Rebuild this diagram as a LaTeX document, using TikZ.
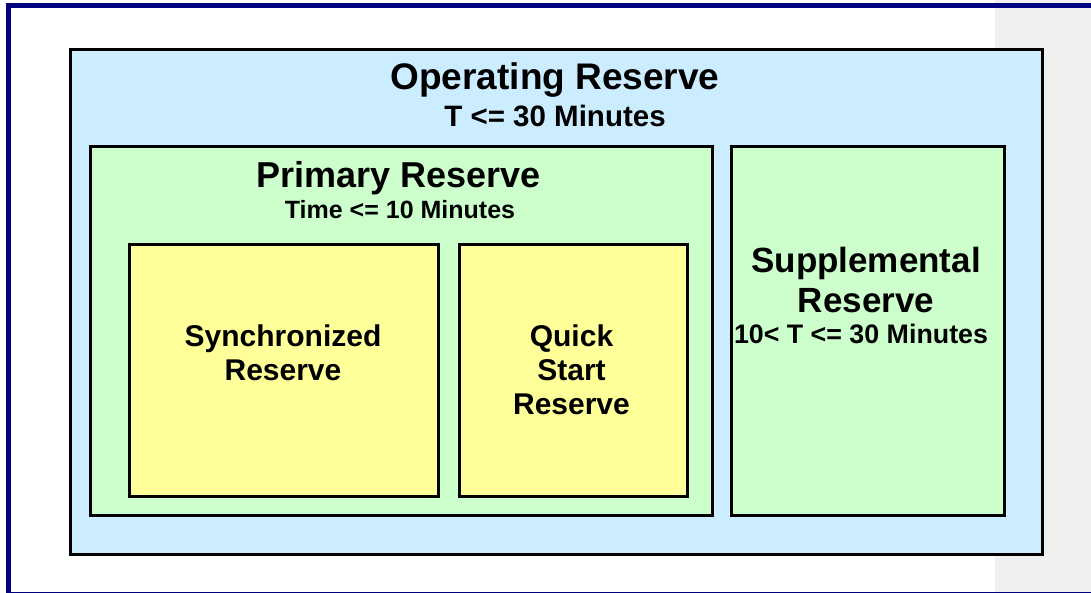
\documentclass[tikz,border=0pt]{standalone}
\usepackage{fontspec}
\setmainfont{Liberation Sans}
\definecolor{opblue}{HTML}{CCECFF}
\definecolor{prgreen}{HTML}{CCFFCC}
\definecolor{ylw}{HTML}{FFFF99}
\definecolor{sidegray}{HTML}{F0F0F0}
\definecolor{framenavy}{HTML}{000080}
\begin{document}
\begin{tikzpicture}[x=1pt,y=-1pt,
  box/.style={draw=black, line width=3pt, inner sep=0pt, anchor=north west},
  lbl/.style={anchor=base, inner sep=0pt}]
\useasboundingbox (0,0) rectangle (1091,592);
\fill[white] (0,0) rectangle (1091,592);
\fill[sidegray] (995,0) rectangle (1091,592);
\begin{scope}
  \clip (0,0) rectangle (1091,592);
  \draw[framenavy, line width=5pt] (8,5.8) rectangle (1110,594.7);
\end{scope}
% boxes
\node[box, fill=opblue, minimum width=972pt, minimum height=505pt] (oper) at (69,47.5) {};
\node[box, fill=prgreen, minimum width=622pt, minimum height=369pt] (prim) at (88.5,144.5) {};
\node[box, fill=prgreen, minimum width=272.5pt, minimum height=369pt] (supp) at (730,144.5) {};
\node[box, fill=ylw, minimum width=309.5pt, minimum height=252pt] (sync) at (127.5,242.5) {};
\node[box, fill=ylw, minimum width=228pt, minimum height=252pt] (quick) at (457.5,242.5) {};
% labels
\node[lbl, font=\fontsize{37}{40}\selectfont\bfseries] (opA) at (555,89) {Operating Reserve};
\node[lbl, font=\fontsize{29.5}{32}\selectfont\bfseries] (opB) at (555,126) {T <= 30 Minutes};
\node[lbl, font=\fontsize{36}{40}\selectfont\bfseries] (prA) at (399,187) {Primary Reserve};
\node[lbl, font=\fontsize{25}{28}\selectfont\bfseries] (prB) at (400,218) {Time <= 10 Minutes};
\node[lbl, font=\fontsize{30}{33}\selectfont\bfseries] (syA) at (283,346.7) {Synchronized};
\node[lbl, font=\fontsize{30}{33}\selectfont\bfseries] (syB) at (283,380) {Reserve};
\node[lbl, font=\fontsize{30}{33}\selectfont\bfseries] (qsA) at (571.5,346.7) {Quick};
\node[lbl, font=\fontsize{30}{33}\selectfont\bfseries] (qsB) at (571.5,380.5) {Start};
\node[lbl, font=\fontsize{30}{33}\selectfont\bfseries] (qsC) at (571.5,414.5) {Reserve};
\node[lbl, font=\fontsize{35}{38}\selectfont\bfseries] (spA) at (866,272) {Supplemental};
\node[lbl, font=\fontsize{35}{38}\selectfont\bfseries] (spB) at (866,312) {Reserve};
\node[lbl, font=\fontsize{26.8}{29}\selectfont\bfseries] (spC) at (861,343) {10< T <= 30 Minutes};
\end{tikzpicture}
\end{document}
